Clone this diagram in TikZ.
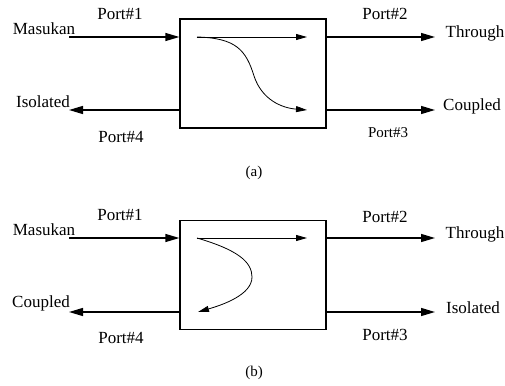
\documentclass[tikz,border=0pt]{standalone}
\usepackage{fontspec}
\setmainfont{Liberation Serif}
\usetikzlibrary{arrows.meta,positioning}

\begin{document}
\begin{tikzpicture}[x=1pt, y=-1pt,
  box/.style={rectangle, draw, line width=1.3pt, minimum width=146pt,
              minimum height=109pt, inner sep=0pt},
  lbl/.style={inner sep=0pt, font=\fontsize{17}{20}\selectfont},
  slbl/.style={inner sep=0pt, font=\fontsize{15}{18}\selectfont},
  arr/.style={-{Triangle[length=14pt, width=8pt]}, line width=1.3pt},
  iarr/.style={-{Triangle[length=11pt, width=6pt]}, line width=0.8pt}
]
\useasboundingbox (0,0) rectangle (505,385);

% ── (a) ─────────────
\node[box] (boxa) at (253,73.5) {};
\coordinate (ina)   at (69,37);
\coordinate (isoa)  at (69,110);
\coordinate (thra)  at (435,37);
\coordinate (coua)  at (435,110);
\coordinate (sa)    at (197,37);
\coordinate (ta)    at (307,37);
\coordinate (ca)    at (307,110);
\node[lbl] (p1a) at (120,14) {Port\#1};
\node[lbl] (masa) at (44,29) {Masukan};
\node[lbl] (isla) at (43,102) {Isolated};
\node[lbl] (p4a) at (121,137) {Port\#4};
\node[lbl] (p2a) at (385,14) {Port\#2};
\node[lbl] (thla) at (475,33) {Through};
\node[lbl] (cpla) at (472,106) {Coupled};
\node[slbl] (p3a) at (388,133) {Port\#3};
\node[slbl] (capa) at (254,173) {(a)};
\draw[arr] (ina) -- (boxa.west |- ina);
\draw[arr] (boxa.west |- isoa) -- (isoa);
\draw[arr] (boxa.east |- thra) -- (thra);
\draw[arr] (boxa.east |- coua) -- (coua);
\draw[iarr] (sa) -- (ta);
\draw[iarr] (sa) .. controls (236,38) and (246,50) .. (254,76)
                 .. controls (262,100) and (282,108) .. (ca);

% ── (b) ─────────────
\node[box] (boxb) at (253,275) {};
\coordinate (inb)   at (69,238);
\coordinate (coub)  at (69,312);
\coordinate (thrb)  at (435,238);
\coordinate (isob)  at (435,312);
\coordinate (sb)    at (197,238);
\coordinate (tb)    at (307,238);
\coordinate (cb)    at (198,312);
\node[lbl] (p1b) at (120,215) {Port\#1};
\node[lbl] (masb) at (44,230) {Masukan};
\node[lbl] (cplb) at (41,303) {Coupled};
\node[lbl] (p4b) at (121,338) {Port\#4};
\node[lbl] (p2b) at (385,217) {Port\#2};
\node[lbl] (thlb) at (475,234) {Through};
\node[lbl] (islb) at (473,308) {Isolated};
\node[lbl] (p3b) at (385,335) {Port\#3};
\node[slbl] (capb) at (254,373) {(b)};
\draw[arr] (inb) -- (boxb.west |- inb);
\draw[arr] (boxb.west |- coub) -- (coub);
\draw[arr] (boxb.east |- thrb) -- (thrb);
\draw[arr] (boxb.east |- isob) -- (isob);
\draw[iarr] (sb) -- (tb);
\draw[iarr] (sb) .. controls (238,250) and (252,262) .. (252,277)
                 .. controls (252,295) and (222,305) .. (cb);
\end{tikzpicture}
\end{document}
